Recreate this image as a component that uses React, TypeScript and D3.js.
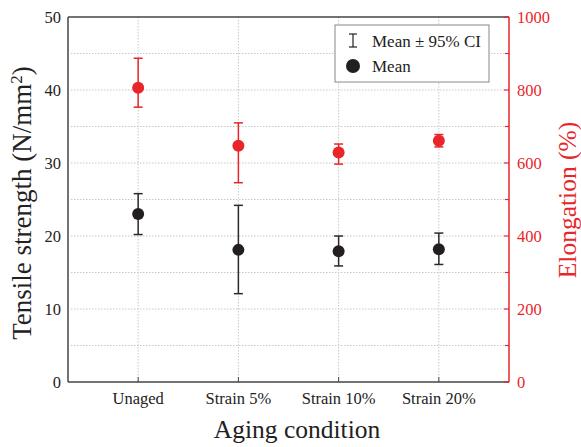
import React from "react";
import * as d3 from "d3";

const categories = ["Unaged", "Strain 5%", "Strain 10%", "Strain 20%"];
const tensileMean = [23.0, 18.1, 17.9, 18.2];
const tensileLow = [20.2, 12.1, 15.9, 16.1];
const tensileHigh = [25.8, 24.2, 20.0, 20.4];
const elongMean = [806, 647, 629, 661];
const elongLow = [753, 546, 597, 644];
const elongHigh = [887, 710, 652, 678];
const leftTicks = [0, 10, 20, 30, 40, 50];
const rightTicks = [0, 200, 400, 600, 800, 1000];

const W = 581, H = 447;
const M = { left: 68, right: 509, top: 17, bottom: 382 };
const RED = "#e8262a";
const BLACK = "#231f20";
const FONT = "'Liberation Serif', 'Times New Roman', serif";

export default function App() {
  const x = d3.scaleLinear().domain([0.3, 4.7]).range([M.left, M.right]);
  const yL = d3.scaleLinear().domain([0, 50]).range([M.bottom, M.top]);
  const yR = d3.scaleLinear().domain([0, 1000]).range([M.bottom, M.top]);
  const gridVals = d3.range(5, 50, 5);
  const rightMinor = d3.range(100, 1000, 200);
  const cap = 4.5;

  const series = [
    { mean: elongMean, low: elongLow, high: elongHigh, y: yR, color: RED, bar: RED },
    { mean: tensileMean, low: tensileLow, high: tensileHigh, y: yL, color: BLACK, bar: "#2a2a2a" },
  ];

  return (
    <svg width={W} height={H} style={{ position: "absolute", left: 0, top: 0, background: "#fff", fontFamily: FONT }}>
      {/* grid */}
      {gridVals.map((v) => (
        <line key={"h" + v} x1={M.left + 3} x2={M.right - 3} y1={yL(v)} y2={yL(v)} stroke="#c8c8c8" strokeWidth={1} strokeDasharray="1.5,1.5" />
      ))}
      {categories.map((c, i) => (
        <line key={"v" + c} x1={x(i + 1)} x2={x(i + 1)} y1={M.top} y2={M.bottom} stroke="#c8c8c8" strokeWidth={1} strokeDasharray="1.5,1.5" />
      ))}
      {/* frame */}
      <line x1={M.left} x2={M.right} y1={M.top} y2={M.top} stroke="#444" strokeWidth={1.5} />
      <line x1={M.left} x2={M.right} y1={M.bottom} y2={M.bottom} stroke="#444" strokeWidth={1.5} />
      <line x1={M.left} x2={M.left} y1={M.top} y2={M.bottom} stroke="#444" strokeWidth={1.5} />
      <line x1={M.right} x2={M.right} y1={M.top} y2={M.bottom} stroke={RED} strokeWidth={1.5} />
      {/* bottom ticks */}
      {categories.map((c, i) => (
        <g key={"bt" + c}>
          <line x1={x(i + 1)} x2={x(i + 1)} y1={M.bottom} y2={M.bottom - 5} stroke="#444" strokeWidth={1} />
          <text x={x(i + 1)} y={404} textAnchor="middle" fontSize={16.5} fill="#222">{c}</text>
        </g>
      ))}
      {/* right ticks */}
      {rightTicks.map((v) => (
        <g key={"rt" + v}>
          <line x1={M.right - 5} x2={M.right} y1={yR(v)} y2={yR(v)} stroke={RED} strokeWidth={1.2} />
          <text x={M.right + 8} y={yR(v) + 5.5} fontSize={16.5} fill={RED}>{v}</text>
        </g>
      ))}
      {rightMinor.map((v) => (
        <line key={"rm" + v} x1={M.right - 4} x2={M.right} y1={yR(v)} y2={yR(v)} stroke={RED} strokeWidth={1.2} />
      ))}
      {/* left ticks */}
      {leftTicks.map((v) => (
        <text key={"lt" + v} x={M.left - 7} y={yL(v) + 5.5} textAnchor="end" fontSize={16.5} fill="#222">{v}</text>
      ))}
      {/* axis titles */}
      <text transform={`translate(31,203) rotate(-90)`} textAnchor="middle" fontSize={27} fill="#222">
        Tensile strength (N/mm<tspan baselineShift="super" fontSize={17}>2</tspan>)
      </text>
      <text transform={`translate(576,200) rotate(-90)`} textAnchor="middle" fontSize={25.5} fill={RED}>
        Elongation (%)
      </text>
      <text x={297} y={438} textAnchor="middle" fontSize={25.5} fill="#222">Aging condition</text>
      {/* data */}
      {series.map((s, si) => (
        <g key={"s" + si}>
          {s.mean.map((m, i) => {
            const cx = x(i + 1);
            return (
              <g key={i}>
                <line x1={cx} x2={cx} y1={s.y(s.low[i])} y2={s.y(s.high[i])} stroke={s.bar} strokeWidth={1.5} />
                <line x1={cx - cap} x2={cx + cap} y1={s.y(s.low[i])} y2={s.y(s.low[i])} stroke={s.bar} strokeWidth={1.5} />
                <line x1={cx - cap} x2={cx + cap} y1={s.y(s.high[i])} y2={s.y(s.high[i])} stroke={s.bar} strokeWidth={1.5} />
                <circle cx={cx} cy={s.y(m)} r={6} fill={s.color} />
              </g>
            );
          })}
        </g>
      ))}
      {/* legend */}
      <rect x={335} y={25} width={154} height={57} fill="#fff" stroke="#888" strokeWidth={1} />
      <line x1={353} x2={353} y1={34} y2={47} stroke={BLACK} strokeWidth={1.2} />
      <line x1={349} x2={357} y1={34} y2={34} stroke={BLACK} strokeWidth={1.2} />
      <line x1={349} x2={357} y1={47} y2={47} stroke={BLACK} strokeWidth={1.2} />
      <text x={372} y={47} fontSize={17} fill="#222">Mean ± 95% CI</text>
      <circle cx={353} cy={66} r={7} fill={BLACK} />
      <text x={372} y={72} fontSize={17} fill="#222">Mean</text>
    </svg>
  );
}
